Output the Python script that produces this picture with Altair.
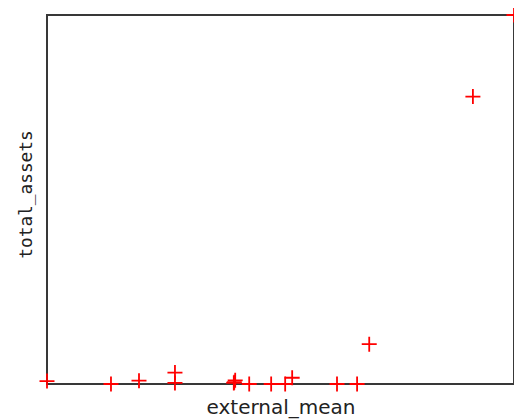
import altair as alt
import pandas as pd

external_mean = [0.0, 13.7, 19.7, 27.4, 27.4, 40.3, 40.0, 40.1, 43.3, 48.0, 51.0, 52.5, 62.1, 66.4, 69.0, 91.2, 100.0]
total_assets = [0.8, 0.0, 0.9, 3.1, 0.3, 1.0, 0.3, 0.5, 0.0, 0.0, 0.0, 1.7, 0.0, 0.0, 10.8, 77.9, 100.0]

df = pd.DataFrame({"external_mean": external_mean, "total_assets": total_assets})

plus = "M-1,0L1,0M0,-1L0,1"

chart = alt.Chart(df).mark_point(
    shape=plus, size=225, filled=False, stroke="#ff0000", strokeWidth=1.8,
    opacity=1, clip=False
).encode(
    x=alt.X("external_mean:Q", scale=alt.Scale(domain=[0, 100], nice=False, zero=False),
            axis=alt.Axis(title="external_mean", labels=False, ticks=False, grid=False, domain=False,
                          titleFont="DejaVu Sans", titleFontSize=20, titleFontWeight="normal",
                          titleColor="#222222", titlePadding=13)),
    y=alt.Y("total_assets:Q", scale=alt.Scale(domain=[0, 100], nice=False, zero=False),
            axis=alt.Axis(title="total_assets", labels=False, ticks=False, grid=False, domain=False,
                          titleFont="DejaVu Sans Mono", titleFontSize=17.8, titleFontWeight="normal",
                          titleColor="#222222", titlePadding=12, titleY=179)),
).properties(
    width=467, height=369,
    autosize=alt.AutoSizeParams(type="none"),
    padding={"left": 39, "top": 7, "right": 0, "bottom": 36},
).configure_view(
    stroke="#383838", strokeWidth=2
)

chart.save("out.html", embed_options={"renderer": "svg", "actions": False})
